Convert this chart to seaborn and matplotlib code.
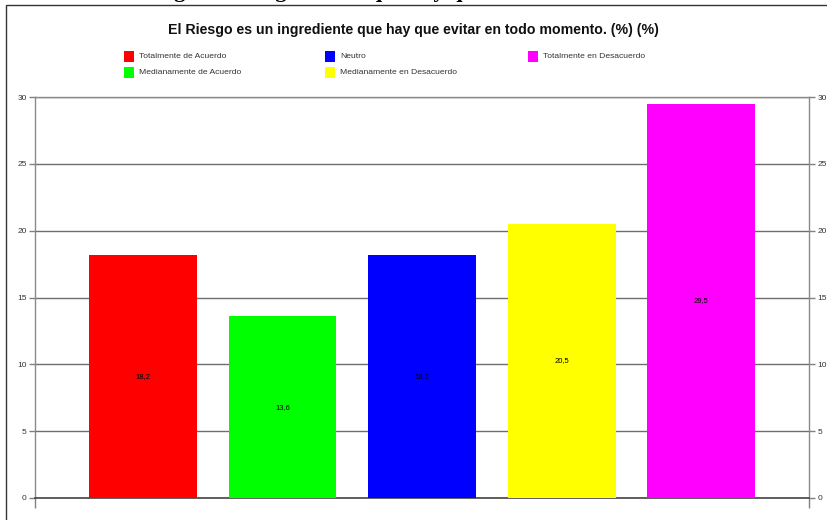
import matplotlib
matplotlib.use("Agg")
import matplotlib.pyplot as plt
from matplotlib.patches import Rectangle
import pandas as pd
import seaborn as sns

# data
categories = [
    "Totalmente de Acuerdo",
    "Medianamente de Acuerdo",
    "Neutro",
    "Medianamente en Desacuerdo",
    "Totalmente en Desacuerdo",
]
values = [18.2, 13.6, 18.2, 20.5, 29.5]
colors = ["#ff0000", "#00ff00", "#0000ff", "#ffff00", "#ff00ff"]
yticks = [0, 5, 10, 15, 20, 25, 30]

df = pd.DataFrame({"cat": categories, "val": values})

sns.set_style("white")
plt.rcParams["font.family"] = ["Liberation Sans", "DejaVu Sans"]

W, H = 827, 520
fig = plt.figure(figsize=(W / 100, H / 100), dpi=100)
ax = fig.add_axes([35 / W, 1 - 498 / H, (809 - 35) / W, (498 - 97) / H])

# page heading, cut off at the top of the screenshot
fig.text(0.0, 1 + 3 / H, "Gráfica 3.  El Riesgo es un ingrediente que hay que evitar en todo momento. Semana",
         family=["Liberation Serif", "DejaVu Serif"], fontweight="bold", fontsize=16,
         va="baseline", ha="left", color="black")

# chart frame
fig.add_artist(Rectangle((6 / W, -0.1), 1.2, 1.1 - 5 / H, fill=False, ec="#333333", lw=1,
                         transform=fig.transFigure))

sns.barplot(data=df, x="cat", y="val", hue="cat", palette=colors, order=categories,
            hue_order=categories, width=0.774, legend=False, ax=ax, saturation=1,
            edgecolor="none", zorder=3)

for i, v in enumerate(values):
    ax.text(i, v / 2, f"{v:.1f}".replace(".", ","), ha="center", va="center", fontsize=5.5,
            color="black", zorder=4)

ax.set_xlim(-0.774, 4.774)
ax.set_ylim(0, 30)
ax.set_yticks(yticks)
ax.set_yticklabels([str(t) for t in yticks])
ax.set_xticks([-0.774, 4.774])
ax.set_xticklabels(["", ""])
ax.set_xlabel("")
ax.set_ylabel("")
ax.yaxis.grid(True, color="#6e6e6e", lw=1)
ax.set_axisbelow(True)
ax.tick_params(axis="y", left=True, right=True, labelleft=True, labelright=True,
               direction="out", length=4, width=1, color="#808080", labelsize=6,
               labelcolor="#333333", pad=2)
ax.tick_params(axis="x", bottom=True, direction="out", length=7, width=1, color="#808080")
for s in ["left", "right", "top"]:
    ax.spines[s].set_color("#8a8a8a")
    ax.spines[s].set_linewidth(1)
ax.spines["bottom"].set_color("#444444")
ax.spines["bottom"].set_linewidth(1.2)

fig.text(0.5, 1 - 30 / H, "El Riesgo es un ingrediente que hay que evitar en todo momento. (%) (%)",
         ha="center", va="center", fontsize=10.2, fontweight="bold", color="#111111")

# legend: three columns, two rows
col_x = [124, 325, 528]
row_y = [57, 73]
for i, (cat, c) in enumerate(zip(categories, colors)):
    px = col_x[i // 2]
    py = row_y[i % 2]
    fig.add_artist(Rectangle((px / W, 1 - (py + 5) / H), 10 / W, 11 / H, fc=c, ec="none",
                             transform=fig.transFigure))
    fig.text((px + 15) / W, 1 - py / H, cat, ha="left", va="center", fontsize=6.1,
             color="#333333")

fig.savefig("out.png", dpi=100)
